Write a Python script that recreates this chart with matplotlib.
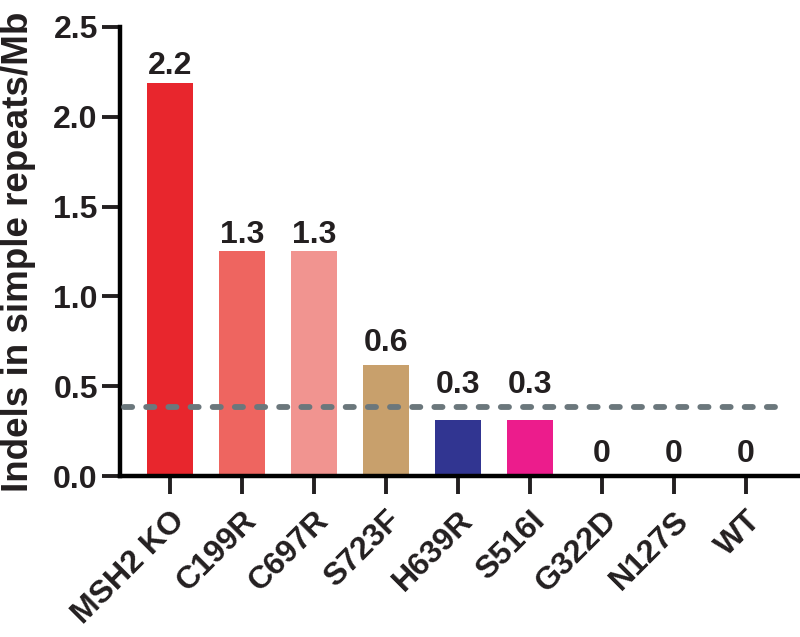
import matplotlib.pyplot as plt

plt.rcParams["font.family"] = ["Liberation Sans", "DejaVu Sans"]
plt.rcParams["font.weight"] = "bold"
plt.rcParams["text.color"] = "#231F20"
plt.rcParams["axes.labelcolor"] = "#231F20"
plt.rcParams["xtick.color"] = "#231F20"
plt.rcParams["ytick.color"] = "#231F20"

# data
genotypes = ["MSH2 KO", "C199R", "C697R", "S723F", "H639R", "S516I", "G322D", "N127S", "WT"]
indels = [2.19, 1.25, 1.25, 0.62, 0.31, 0.31, 0, 0, 0]
value_labels = ["2.2", "1.3", "1.3", "0.6", "0.3", "0.3", "0", "0", "0"]
bar_colors = ["#E8262D", "#EE6560", "#F19490", "#C8A06C", "#313591", "#EC1C8C",
              "#FFFFFF", "#FFFFFF", "#FFFFFF"]
threshold = 0.385

fig = plt.figure(figsize=(8, 6.37), dpi=100)
ax = fig.add_axes([0.15, 0.2527, 0.85, 0.705])

x = range(len(genotypes))
ax.bar(x, indels, width=0.64, color=bar_colors)

# dashed reference line
ax.plot([-0.64, 8.5], [threshold, threshold], ls=(0, (1.4, 2.4)), lw=4.2,
        color="#6B777C", dash_capstyle="round", zorder=3)

# value labels above bars (lifted over the dashed line where needed)
for i, (v, lab) in enumerate(zip(indels, value_labels)):
    base = v
    off = 10
    if v > 1:
        off = 6
    elif 0 < v < threshold:
        base = threshold
    ax.annotate(lab, (i, base), xytext=(0, off), textcoords="offset points",
                ha="center", va="baseline", fontsize=23, fontweight="bold")

ax.set_xlim(-0.69, 8.75)
ax.set_ylim(0, 2.5)
ax.set_yticks([0, 0.5, 1.0, 1.5, 2.0, 2.5])
ax.set_yticklabels(["0.0", "0.5", "1.0", "1.5", "2.0", "2.5"])
ax.set_xticks(list(x))
ax.set_xticklabels(genotypes, rotation=45, ha="right", va="top",
                   rotation_mode="anchor")
ax.set_ylabel("Indels in simple repeats/Mb", fontsize=26.5, fontweight="bold", labelpad=12)

for side in ["top", "right"]:
    ax.spines[side].set_visible(False)
for side in ["left", "bottom"]:
    ax.spines[side].set_linewidth(3.2)
ax.tick_params(axis="y", length=13, width=2.8, labelsize=23, pad=3)
ax.tick_params(axis="x", length=13, width=2.8, labelsize=23, pad=8)

fig.savefig("out.png", dpi=100)
